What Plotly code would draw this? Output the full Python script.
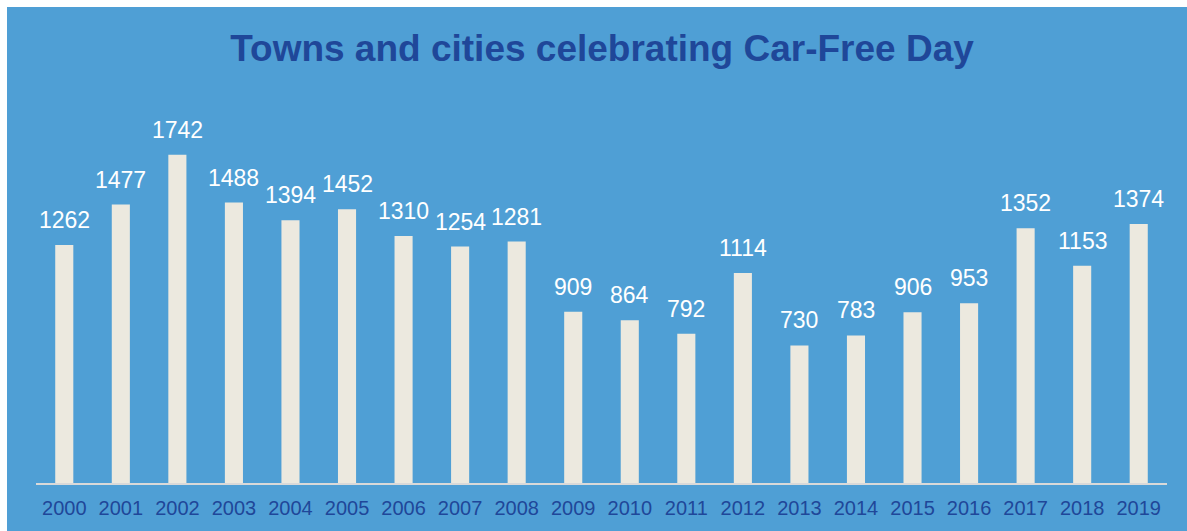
import plotly.graph_objects as go

years = [str(y) for y in range(2000, 2020)]
values = [1262, 1477, 1742, 1488, 1394, 1452, 1310, 1254, 1281, 909,
          864, 792, 1114, 730, 783, 906, 953, 1352, 1153, 1374]
title = "Towns and cities celebrating Car-Free Day"

FONT = "Liberation Sans, Arial"
bg = "#4F9FD5"
W, H = 1180, 524
fig = go.Figure(go.Bar(
    x=years, y=values,
    marker=dict(color="#ECE9DF", line=dict(width=0)),
    hoverinfo="x+y",
))
for i, v in enumerate(values):
    fig.add_annotation(x=i, y=v, text=str(v), showarrow=False,
                       yanchor="bottom", yshift=10,
                       font=dict(color="white", size=23, family=FONT))
fig.update_layout(
    width=W, height=H,
    paper_bgcolor=bg, plot_bgcolor=bg,
    margin=dict(l=29, r=20, t=99, b=43),
    bargap=0.68,
    showlegend=False,
    title=dict(text="<b>" + title + "</b>", x=0.5 + 5 / W, xanchor="center", y=1 - 41 / H, yanchor="middle",
               font=dict(family=FONT, size=37, color="#1F4799")),
    xaxis=dict(type="category", showline=True, linecolor="#D9D9D9", linewidth=2, showgrid=False,
               ticks="outside", ticklen=6, tickcolor="rgba(0,0,0,0)",
               tickfont=dict(family=FONT, size=20, color="#1F4799")),
    yaxis=dict(range=[0, 2000], visible=False, showgrid=False),
)
fig.write_html("out.html", post_script="document.body.style.margin='7px 0 0 7px';")
